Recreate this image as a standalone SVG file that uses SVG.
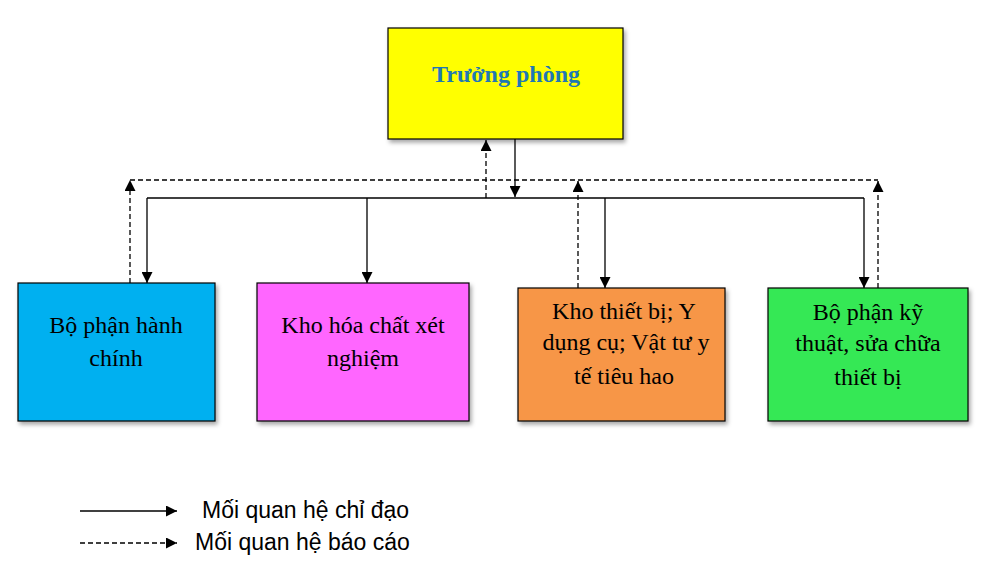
<svg xmlns="http://www.w3.org/2000/svg" width="992" height="564" viewBox="0 0 992 564">
<defs>
<marker id="ah" viewBox="0 0 10 10" refX="10" refY="5" markerWidth="11" markerHeight="11" markerUnits="userSpaceOnUse" orient="auto">
<path d="M0,0 L10,5 L0,10 z" fill="#000"/>
</marker>
<filter id="sh" x="-10%" y="-10%" width="130%" height="130%">
<feDropShadow dx="2" dy="3" stdDeviation="2" flood-color="#000" flood-opacity="0.35"/>
</filter>
</defs>
<style>
.box{stroke:#000;stroke-width:1.2;filter:url(#sh)}
.t{font-family:"Liberation Serif","Times New Roman",serif;font-size:24px;fill:#000;text-anchor:middle}
.solid{fill:none;stroke:#000;stroke-width:1.3}
.dash{fill:none;stroke:#000;stroke-width:1.3;stroke-dasharray:5 3}
.leg{font-family:"Liberation Sans",Arial,sans-serif;font-size:23px;fill:#000}
</style>
<rect width="992" height="564" fill="#fff"/>
<g id="connectors">
<path class="solid" d="M515,139 V197" marker-end="url(#ah)"/>
<path class="solid" d="M147,198 H864"/>
<path class="solid" d="M147,198 V283" marker-end="url(#ah)"/>
<path class="solid" d="M367,198 V283" marker-end="url(#ah)"/>
<path class="solid" d="M605,198 V288" marker-end="url(#ah)"/>
<path class="solid" d="M864,198 V288" marker-end="url(#ah)"/>
<path class="dash" d="M130,180 H878"/>
<path class="dash" d="M130,283 V180" marker-end="url(#ah)"/>
<path class="dash" d="M578,288 V181" marker-end="url(#ah)"/>
<path class="dash" d="M878,288 V181" marker-end="url(#ah)"/>
<path class="dash" d="M486,198 V140" marker-end="url(#ah)"/>
</g>
<g id="truong-phong">
<rect class="box" x="388" y="28" width="235" height="111" fill="#FFFF00"/>
<text x="506" y="82" class="t" style="font-weight:bold;fill:#1F78B4">Trưởng phòng</text>
</g>
<g id="bo-phan-hanh-chinh">
<rect class="box" x="18" y="283" width="197" height="138" fill="#00B0F0"/>
<text class="t" x="116" y="333">Bộ phận hành</text>
<text class="t" x="116" y="366">chính</text>
</g>
<g id="kho-hoa-chat">
<rect class="box" x="257" y="283" width="212" height="138" fill="#FF66FF"/>
<text class="t" x="363" y="333">Kho hóa chất xét</text>
<text class="t" x="363" y="366">nghiệm</text>
</g>
<g id="kho-thiet-bi">
<rect class="box" x="518" y="288" width="207" height="133" fill="#F79646"/>
<text class="t" x="624" y="319">Kho thiết bị; Y</text>
<text class="t" x="626" y="350">dụng cụ; Vật tư y</text>
<text class="t" x="624" y="384">tế tiêu hao</text>
</g>
<g id="bo-phan-ky-thuat">
<rect class="box" x="768" y="288" width="200" height="133" fill="#36E854"/>
<text class="t" x="868" y="320">Bộ phận kỹ</text>
<text class="t" x="868" y="351">thuật, sửa chữa</text>
<text class="t" x="868" y="385">thiết bị</text>
</g>
<g id="legend">
<path class="solid" d="M80,511 H177" marker-end="url(#ah)"/>
<path class="dash" d="M80,543 H177" marker-end="url(#ah)"/>
<text class="leg" x="202" y="518">Mối quan hệ chỉ đạo</text>
<text class="leg" x="195" y="550">Mối quan hệ báo cáo</text>
</g>
</svg>
